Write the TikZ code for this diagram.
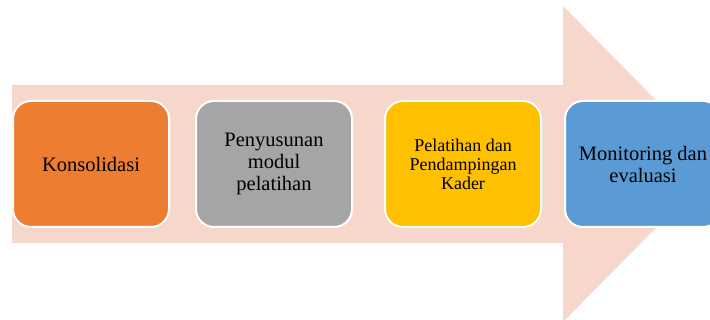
\documentclass[tikz,border=0pt]{standalone}
\usepackage{fontspec}
\setmainfont{Liberation Serif}
\usetikzlibrary{calc}

\definecolor{arrowpink}{HTML}{F7D6CB}
\definecolor{stageorange}{HTML}{ED7D31}
\definecolor{stagegray}{HTML}{A5A5A5}
\definecolor{stageyellow}{HTML}{FFC000}
\definecolor{stageblue}{HTML}{5B9BD5}

\begin{document}
\begin{tikzpicture}[x=1pt, y=1pt,
    stagebox/.style={draw=white, line width=2pt, rounded corners=18pt,
      minimum width=156pt, minimum height=126pt, inner sep=0pt,
      align=center, text=black, font=\fontsize{20.5}{22}\selectfont}]
        %\draw[step=10,gray,very thin] (0,0) grid (710,320);
        \useasboundingbox (0,0) rectangle (710,320);
        \clip (0,0) rectangle (710,320);

        % Big arrow.
        \coordinate (S1) at (12,235);
        \coordinate (S2) at (563,235);
        \coordinate (H1) at (563,314);
        \coordinate (Tip) at (719,156);
        \coordinate (H2) at (563,-2);
        \coordinate (S3) at (563,77);
        \coordinate (S4) at (12,77);
        \fill[arrowpink] (S1) -- (S2) -- (H1) -- (Tip) -- (H2) -- (S3) -- (S4) -- cycle;

        % Stages.
        \node[stagebox, fill=stageorange] (konsolidasi) at (91,156) {Konsolidasi};
        \node[stagebox, fill=stagegray] (modul) at (274,156) {Penyusunan\\modul\\pelatihan};
        \node[stagebox, fill=stageyellow, font=\fontsize{18}{19}\selectfont] (pelatihan) at (463,156)
            {Pelatihan dan\\Pendampingan\\Kader};
        \node[stagebox, fill=stageblue] (monitoring) at (643,156) {Monitoring dan\\evaluasi};
    \end{tikzpicture}
\end{document}
